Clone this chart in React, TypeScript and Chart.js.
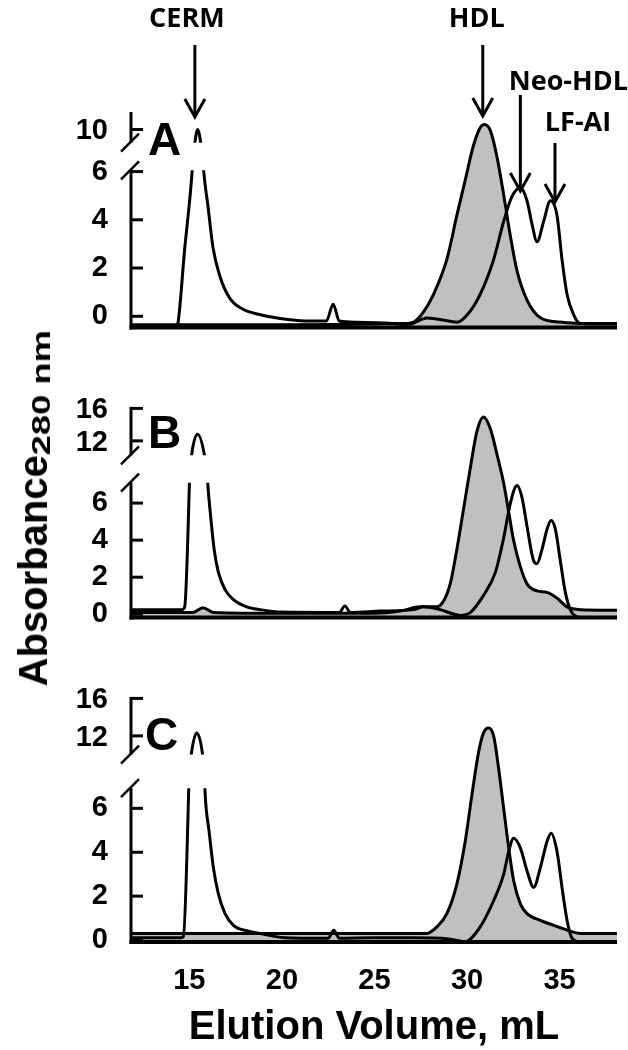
import { useEffect, useRef } from 'react';
import { Chart, registerables } from 'chart.js';

Chart.register(...registerables);

// ---------- data ----------
const VOLUME_MIN = 11.85;
const VOLUME_MAX = 38.1;
const volumeTicks = [15, 20, 25, 30, 35];

// Panel A
const aWhiteX = [14.2, 14.35, 14.75, 15.15, 15.45, 15.78, 16.01, 16.28, 16.66, 17.2, 17.9, 18.8, 20.0, 21.5, 22.4, 22.77, 23.1, 24.0, 26.0, 26.77, 27.85, 29.0, 29.47, 30.0, 30.71, 31.44, 31.98, 32.43, 32.88, 33.24, 33.51, 33.78, 34.14, 34.5, 34.86, 35.13, 35.4, 35.76, 36.12, 37.0, 38.1];
const aWhiteY = [-0.6, -0.45, 2.8, 6.0, 10.0, 6.0, 4.55, 2.84, 1.64, 0.73, 0.29, 0.07, -0.1, -0.2, -0.2, 0.5, -0.2, -0.25, -0.3, -0.36, -0.07, -0.2, -0.25, 0.05, 0.91, 2.36, 3.94, 4.97, 5.33, 4.79, 3.82, 3.09, 3.94, 4.79, 4.18, 2.36, 0.91, 0.06, -0.3, -0.32, -0.32];
const aGrayX = [11.85, 20, 26.5, 27.11, 27.65, 28.19, 28.91, 29.45, 29.9, 30.35, 30.71, 30.93, 31.26, 31.62, 31.98, 32.34, 32.7, 33.24, 33.96, 35.04, 36.12, 38.1];
const aGrayY = [-0.35, -0.35, -0.3, -0.24, 0.18, 0.91, 2.36, 4.18, 5.64, 7.09, 7.82, 7.95, 7.7, 6.6, 5.03, 3.33, 1.88, 0.67, -0.06, -0.24, -0.3, -0.3];

// Panel B
const bWhiteX = [11.85, 14.0, 14.6, 14.75, 15.12, 15.45, 15.82, 16.0, 16.16, 16.34, 16.57, 16.93, 17.38, 18.1, 18.82, 20.0, 22.5, 23.1, 23.4, 23.7, 25.31, 27.11, 27.65, 28.55, 29.63, 30.17, 30.89, 31.53, 31.98, 32.34, 32.7, 32.97, 33.24, 33.6, 33.78, 34.05, 34.32, 34.54, 34.77, 35.04, 35.31, 35.58, 35.94, 36.48, 38.1];
const bWhiteY = [0.25, 0.25, 0.25, 0.4, 10.2, 12.8, 10.2, 7.0, 5.2, 3.5, 2.26, 1.33, 0.79, 0.4, 0.25, 0.12, 0.1, 0.1, 0.45, 0.1, 0.17, 0.25, 0.4, 0.25, -0.06, 0.09, 1.02, 2.26, 4.12, 5.99, 6.95, 6.3, 4.74, 2.88, 2.73, 3.5, 4.59, 5.06, 4.59, 2.88, 1.18, 0.25, -0.14, -0.2, -0.2];
const bGrayX = [11.85, 15.2, 15.74, 16.3, 20, 25, 26.39, 27.47, 28.37, 28.73, 29.09, 29.45, 29.81, 30.17, 30.53, 30.89, 31.26, 31.62, 31.98, 32.25, 32.52, 32.88, 33.24, 33.78, 34.32, 34.86, 35.4, 36.12, 38.1];
const bGrayY = [0.1, 0.1, 0.35, 0.1, 0.05, 0.05, 0.17, 0.4, 0.4, 0.71, 1.64, 3.5, 5.67, 7.85, 9.86, 10.65, 10.01, 8.62, 7.07, 5.52, 3.97, 2.57, 1.64, 1.26, 1.18, 0.87, 0.4, 0.25, 0.22];

// Panel C
const cWhiteX = [11.85, 14.0, 14.55, 14.68, 15.08, 15.4, 15.74, 15.85, 16.07, 16.3, 16.57, 16.93, 17.38, 18.1, 18.82, 20.0, 22.5, 22.8, 23.1, 25.0, 27.0, 29.0, 29.9, 30.71, 31.44, 31.98, 32.25, 32.52, 32.88, 33.24, 33.6, 33.96, 34.32, 34.54, 34.86, 35.13, 35.4, 35.67, 36.12, 38.1];
const cWhiteY = [0.1, 0.1, 0.1, 0.15, 9.6, 12.3, 9.6, 6.74, 4.94, 3.3, 2.1, 1.2, 0.67, 0.42, 0.3, 0.12, 0.08, 0.45, 0.08, 0.1, 0.1, 0.05, -0.07, 0.6, 1.8, 3.0, 4.04, 4.64, 4.2, 3.15, 2.4, 3.3, 4.49, 4.87, 4.04, 2.4, 0.9, 0.08, -0.1, -0.1];
const cGrayX = [11.85, 20, 25.31, 27.83, 28.37, 28.91, 29.45, 29.9, 30.26, 30.62, 30.89, 31.16, 31.44, 31.71, 31.98, 32.25, 32.52, 32.88, 33.24, 33.96, 34.68, 35.4, 36.12, 38.1];
const cGrayY = [0.3, 0.3, 0.3, 0.3, 0.6, 1.2, 2.55, 4.49, 6.59, 8.54, 9.44, 9.66, 9.29, 7.79, 5.99, 4.2, 2.7, 1.65, 1.2, 0.9, 0.67, 0.45, 0.3, 0.3];

// Tick labels
const lowerTicks = [0, 2, 4, 6];
const upperTicksA = [10];
const upperTicksBC = [12, 16];

// Annotations
const annotationLabels = ['CERM', 'HDL', 'Neo-HDL', 'LF-AI'];
const annotationVolumes = [15.3, 30.85, 32.88, 34.75];

// ---------- layout (pixels) ----------
const annotationLayout = [
  { dx: -8, textY: 19, top: 45, tip: 117 },
  { dx: -6, textY: 19, top: 45, tip: 116 },
  { dx: 48, textY: 82, top: 95, tip: 191 },
  { dx: 23, textY: 123, top: 143, tip: 202 },
];

const FONT = '"Liberation Sans", Arial, sans-serif';
const GRAY = '#c0c0c0';

type PanelCfg = {
  key: string; top: number; height: number; padTop: number; padBottom: number; xHeight: number;
  lower: { min: number; max: number; brk: number };
  upper: { min: number; max: number; brk: number; ticks: number[]; cap: boolean };
  white: [number[], number[]]; gray: [number[], number[]];
  letterDx: number; letterDy: number; notes: boolean;
};

const panels: PanelCfg[] = [
  {
    key: 'A', top: 0, height: 368, padTop: 112, padBottom: 10, xHeight: 0,
    lower: { min: -0.47, max: 8.47, brk: 6.05 },
    upper: { min: -13.79, max: 12.1, brk: 8.42, ticks: upperTicksA, cap: false },
    white: [aWhiteX, aWhiteY], gray: [aGrayX, aGrayY],
    letterDx: 17, letterDy: 43, notes: true,
  },
  {
    key: 'B', top: 368, height: 290, padTop: 34, padBottom: 11, xHeight: 0,
    lower: { min: -0.18, max: 11.11, brk: 7.1 },
    upper: { min: -9.79, max: 16, brk: 10.21, ticks: upperTicksBC, cap: true },
    white: [bWhiteX, bWhiteY], gray: [bGrayX, bGrayY],
    letterDx: 17, letterDy: 40, notes: false,
  },
  {
    key: 'C', top: 658, height: 392, padTop: 37, padBottom: 0, xHeight: 108,
    lower: { min: -0.09, max: 11.01, brk: 6.92 },
    upper: { min: -10.0, max: 16, brk: 10.0, ticks: upperTicksBC, cap: true },
    white: [cWhiteX, cWhiteY], gray: [cGrayX, cGrayY],
    letterDx: 14, letterDy: 52, notes: false,
  },
];

function toPoints(xs: number[], ys: number[]) {
  return xs.map((x, i) => ({ x, y: ys[i] }));
}

function makeDeco(p: PanelCfg) {
  return {
    id: 'deco' + p.key,
    beforeDatasetDraw(chart: any, args: any) {
      const ds: any = chart.data.datasets[args.index];
      if (!ds.part) return;
      const { ctx, chartArea: a } = chart;
      ctx.save();
      ctx.beginPath();
      if (ds.part === 'lower') {
        const yb = chart.scales.y.getPixelForValue(p.lower.brk);
        ctx.rect(a.left - 5, yb, a.right - a.left + 10, a.bottom - yb + 6);
      } else {
        const yb = chart.scales.y2.getPixelForValue(p.upper.brk);
        ctx.rect(a.left - 5, a.top - 12, a.right - a.left + 10, yb - a.top + 12);
      }
      ctx.clip();
    },
    afterDatasetDraw(chart: any, args: any) {
      const ds: any = chart.data.datasets[args.index];
      if (ds.part) chart.ctx.restore();
    },
    afterDraw(chart: any) {
      const { ctx, chartArea: a, scales } = chart;
      const y = scales.y, y2 = scales.y2, x = scales.x;
      ctx.save();
      ctx.strokeStyle = '#000';
      ctx.fillStyle = '#000';
      ctx.lineCap = 'butt';
      // x axis
      ctx.lineWidth = 4;
      ctx.beginPath();
      ctx.moveTo(a.left - 1.5, a.bottom);
      ctx.lineTo(a.right, a.bottom);
      ctx.stroke();
      // lower y axis
      const lowTop = y.getPixelForValue(p.lower.brk);
      ctx.lineWidth = 3;
      ctx.beginPath();
      ctx.moveTo(a.left, lowTop);
      ctx.lineTo(a.left, a.bottom + 2);
      ctx.stroke();
      lowerTicks.forEach((v) => {
        const py = y.getPixelForValue(v);
        ctx.beginPath();
        ctx.moveTo(a.left, py);
        ctx.lineTo(a.left + 12, py);
        ctx.stroke();
      });
      // upper y axis
      const upTop = y2.getPixelForValue(p.upper.max);
      const upBot = y2.getPixelForValue(p.upper.brk);
      ctx.beginPath();
      ctx.moveTo(a.left, upTop - (p.upper.cap ? 1.5 : 0));
      ctx.lineTo(a.left, upBot);
      ctx.stroke();
      ctx.font = 'bold 29px ' + FONT;
      ctx.textAlign = 'right';
      ctx.textBaseline = 'middle';
      p.upper.ticks.forEach((v) => {
        const py = y2.getPixelForValue(v);
        ctx.beginPath();
        ctx.moveTo(a.left, py);
        ctx.lineTo(a.left + 12, py);
        ctx.stroke();
        ctx.fillText(String(v), a.left - 23, py + 2);
      });
      // break marks
      ctx.lineWidth = 2.5;
      [upBot, lowTop].forEach((py) => {
        ctx.beginPath();
        ctx.moveTo(a.left - 10, py + 9);
        ctx.lineTo(a.left + 8, py - 9);
        ctx.stroke();
      });
      // panel letter
      ctx.font = 'bold 46px ' + FONT;
      ctx.textAlign = 'left';
      ctx.textBaseline = 'alphabetic';
      ctx.fillText(p.key, a.left + p.letterDx, a.top + p.letterDy);
      // annotations
      if (p.notes) {
        ctx.font = 'bold 27px "Open Sans", sans-serif';
        ctx.textAlign = 'center';
        ctx.textBaseline = 'middle';
        ctx.lineWidth = 3;
        ctx.lineJoin = 'miter';
        annotationLabels.forEach((label, i) => {
          const xa = x.getPixelForValue(annotationVolumes[i]);
          const L = annotationLayout[i];
          ctx.fillText(label, xa + L.dx, L.textY);
          ctx.beginPath();
          ctx.moveTo(xa, L.top);
          ctx.lineTo(xa, L.tip - 1);
          ctx.stroke();
          ctx.beginPath();
          ctx.moveTo(xa - 10, L.tip - 18);
          ctx.lineTo(xa, L.tip);
          ctx.lineTo(xa + 10, L.tip - 18);
          ctx.stroke();
        });
      }
      ctx.restore();
    },
  };
}

function Panel({ p }: { p: PanelCfg }) {
  const ref = useRef<HTMLCanvasElement | null>(null);
  useEffect(() => {
    if (!ref.current) return;
    const lineBase = {
      borderColor: '#000',
      borderWidth: 3,
      pointRadius: 0,
      cubicInterpolationMode: 'monotone' as const,
    };
    const showX = p.xHeight > 0;
    const chart = new Chart(ref.current, {
      type: 'line',
      data: {
        datasets: [
          {
            ...lineBase,
            data: toPoints(p.white[0], p.white[1]),
            fill: false,
            yAxisID: 'y',
            part: 'lower',
            order: 1,
          } as any,
          {
            ...lineBase,
            data: toPoints(p.white[0], p.white[1]),
            fill: false,
            yAxisID: 'y2',
            part: 'upper',
            order: 1,
          } as any,
          {
            ...lineBase,
            data: toPoints(p.gray[0], p.gray[1]),
            fill: 'start',
            backgroundColor: GRAY,
            yAxisID: 'y',
            order: 2,
          },
        ],
      },
      options: {
        animation: false,
        responsive: false,
        events: [],
        layout: { padding: { top: p.padTop, bottom: p.padBottom, left: 0, right: 11 } },
        plugins: { legend: { display: false }, tooltip: { enabled: false } },
        scales: {
          x: {
            type: 'linear',
            min: VOLUME_MIN,
            max: VOLUME_MAX,
            display: showX,
            afterBuildTicks: (s: any) => { s.ticks = volumeTicks.map((v) => ({ value: v })); },
            afterFit: (s: any) => { s.height = p.xHeight; },
            grid: { display: false, drawTicks: false },
            border: { display: false },
            ticks: {
              color: '#000',
              font: { family: FONT, size: 29, weight: 'bold' },
              padding: 22,
              maxRotation: 0,
              autoSkip: false,
            },
            title: {
              display: showX,
              text: 'Elution Volume, mL',
              color: '#000',
              font: { family: FONT, size: 40, weight: 'bold', lineHeight: 1.1 },
              padding: { top: 0, bottom: 0 },
            },
          },
          y: {
            type: 'linear',
            position: 'left',
            min: p.lower.min,
            max: p.lower.max,
            afterBuildTicks: (s: any) => { s.ticks = lowerTicks.map((v) => ({ value: v })); },
            afterFit: (s: any) => { s.width = 131; },
            grid: { display: false, drawTicks: false },
            border: { display: false },
            ticks: {
              color: '#000',
              font: { family: FONT, size: 29, weight: 'bold' },
              padding: 23,
              autoSkip: false,
            },
          },
          y2: {
            type: 'linear',
            position: 'left',
            display: false,
            min: p.upper.min,
            max: p.upper.max,
          },
        },
      } as any,
      plugins: [makeDeco(p)],
    });
    return () => chart.destroy();
  }, [p]);
  return (
    <canvas
      ref={ref}
      width={628}
      height={p.height}
      style={{ position: 'absolute', left: 0, top: p.top, width: 628, height: p.height, display: 'block' }}
    />
  );
}

export default function App() {
  return (
    <div style={{ position: 'absolute', left: 0, top: 0, width: 628, height: 1050, background: '#fff', overflow: 'hidden' }}>
      {panels.map((p) => (
        <Panel key={p.key} p={p} />
      ))}
      <div
        style={{
          position: 'absolute',
          left: 33,
          top: 508,
          transform: 'translate(-50%, -50%) rotate(-90deg)',
          whiteSpace: 'nowrap',
          fontFamily: FONT,
          fontWeight: 'bold',
          fontSize: 40,
          lineHeight: 1,
          color: '#000',
        }}
      >
        Absorbance
        <span
          style={{
            display: 'inline-block',
            fontSize: 26,
            position: 'relative',
            top: 3,
            transform: 'scaleX(1.4)',
            transformOrigin: 'left center',
            marginRight: 36,
          }}
        >
          280 nm
        </span>
      </div>
    </div>
  );
}
